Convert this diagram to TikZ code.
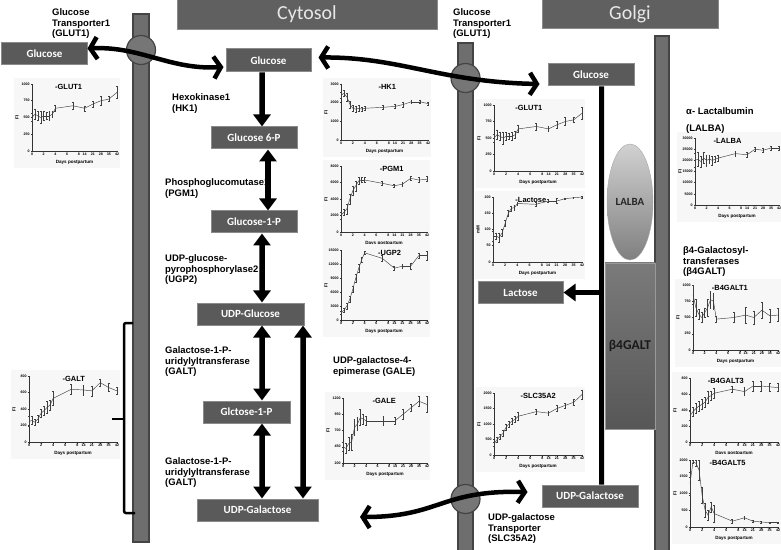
\documentclass[tikz,border=0pt]{standalone}
\usepackage{fontspec}
\setmainfont{Liberation Sans}
\newfontfamily\boxfont{Carlito}
\usetikzlibrary{arrows.meta,shapes.geometric}

\definecolor{boxfill}{HTML}{5A5A5A}
\definecolor{boxedge}{HTML}{8A8A8A}
\definecolor{hdrfill}{HTML}{606060}
\definecolor{hdrtext}{HTML}{E8E8E8}
\definecolor{barfill}{HTML}{6E6E6E}
\definecolor{baredge}{HTML}{444444}
\definecolor{porefill}{HTML}{767676}

\tikzset{
  mol/.style={draw=boxedge, line width=1bp, fill=boxfill, text=white, font=\boxfont\bfseries\fontsize{11}{13}\selectfont, minimum height=22bp, inner sep=0pt},
  hdr/.style={draw=boxedge, line width=1bp, fill=hdrfill, text=hdrtext, font=\boxfont\fontsize{20}{24}\selectfont, minimum height=30bp, inner sep=0pt},
  enz/.style={anchor=north west, align=left, inner sep=0pt, font=\bfseries\fontsize{9.5}{11}\selectfont},
  memb/.style={fill=barfill, draw=baredge, line width=1.2bp},
  pore/.style={circle, fill=porefill, draw=baredge, line width=1.2bp, minimum size=29bp, inner sep=0pt},
  flux/.style={line width=5.5bp, ->},
  flux2/.style={line width=5.5bp, <->},
  swing/.style={line width=4.5bp, arrows={Straight Barb[length=7bp,width=22bp]-Straight Barb[length=7bp,width=22bp]}},
  golgiline/.style={line width=5bp},
  brace/.style={line width=2.5bp, rounded corners=2bp},
  lalba/.style={ellipse, draw=black!35, top color=black!18, bottom color=black!50, minimum width=46bp, minimum height=116bp, inner sep=0pt, text=black!85, font=\boxfont\bfseries\fontsize{11}{13}\selectfont},
  galtbox/.style={rectangle, draw=black!40, top color=black!52, bottom color=black!66, minimum width=50bp, minimum height=166bp, inner sep=0pt, text=black!90, font=\boxfont\bfseries\fontsize{13.5}{15}\selectfont},
  chartbg/.style={fill=black!3},
  chartaxis/.style={draw=black!80, line width=.5bp},
  chartline/.style={draw=black!75, line width=.45bp},
  ticklab/.style={inner sep=.6bp, font=\bfseries\fontsize{3.6}{4}\selectfont},
  daylab/.style={inner sep=0pt, font=\bfseries\fontsize{4.6}{5}\selectfont},
  charttitle/.style={anchor=west, inner sep=0pt, font=\bfseries\fontsize{7.5}{8}\selectfont}
}

% [y label] x0, y0 (axis corner), width, height, title, title place, y ticks, day/value/error
\newcommand{\minichart}[9][FI]{%
  \begin{scope}[shift={(#2,#3)}]
    \foreach \tk [count=\n] in {#8} {\xdef\nticks{\n}}
    \pgfmathsetmacro\ystep{#5/(\nticks-1)}
    \fill[chartbg] (-18,17) rectangle ({#4+3},{-#5-6});
    \draw[chartaxis] (0,-#5) -- (0,0) -- (#4,0);
    \foreach \tk [count=\n from 0] in {#8}
      \draw[chartaxis] (0,-\n*\ystep) -- ++(-1.5,0) node[ticklab,anchor=east] {\tk};
    \foreach \dday in {0,2,4,6,8,14,21,28,35,42} {
      \pgfmathsetmacro\px{#4*(\dday<9 ? \dday/8*0.55 : 0.62+(\dday-14)/28*0.38)}
      \draw[chartaxis] (\px,0) -- (\px,1.5) node[ticklab,anchor=north] {\dday};
    }
    \node[daylab] at ({#4/2},11) {Days postpartum};
    \node[daylab, rotate=90] at (-15,{-#5/2}) {#1};
    \node[charttitle] at ({#7*#4},{-#5+3}) {-#6};
    \foreach \dday/\val/\err [count=\i] in {#9} {
      \pgfmathsetmacro\px{#4*(\dday<9 ? \dday/8*0.55 : 0.62+(\dday-14)/28*0.38)}
      \pgfmathsetmacro\py{-\val*\ystep}
      \pgfmathsetmacro\pe{\err*\ystep}
      \draw[chartline] (\px,\py-\pe) -- (\px,\py+\pe) (\px-.9,\py-\pe) -- (\px+.9,\py-\pe) (\px-.9,\py+\pe) -- (\px+.9,\py+\pe);
      \ifnum\i>1 \draw[chartline] (\qx,\qy) -- (\px,\py);\fi
      \xdef\qx{\px}\xdef\qy{\py}
    }
  \end{scope}}

\begin{document}
\begin{tikzpicture}[x=1bp, y=-1bp, >={Triangle[length=12bp,width=17bp]}]
\useasboundingbox (0,0) rectangle (781,550);

% membranes
\draw[memb] (133,14) rectangle (149,542);
\draw[memb] (458,43) rectangle (473,552);
\draw[memb] (655,36) rectangle (669,552);
\node[pore] (poreL) at (141,50) {};
\node[pore] (poreT) at (465.5,78) {};
\node[pore] (poreB) at (465.5,499) {};

% compartments
\node[hdr, minimum width=260bp] (cyto) at (307,14.5) {Cytosol};
\node[hdr, minimum width=176bp] (golgi) at (630,14) {Golgi};

% expression curves
\minichart{32}{151}{85}{67}{GLUT1}{.27}{0,250,500,750,1000}{0/2.0/.25, .5/2.2/.3, 1/2.1/.25, 1.5/2.0/.35, 2/2.1/.25, 2.5/2.1/.2, 3/2.1/.25, 3.5/2.2/.2, 4/2.55/.2, 7/2.7/.2, 14/2.55/.15, 21/2.8/.2, 28/3.0/.25, 35/3.1/.15, 42/3.5/.35}
\minichart{341}{140}{87}{56}{HK1}{.43}{0,1000,2000,3000}{0/2.4/.15, .5/2.5/.15, 1/2.3/.2, 1.5/1.9/.2, 2/1.7/.15, 2.5/1.65/.15, 3/1.7/.15, 3.5/1.65/.1, 4/1.7/.1, 7/1.75/.1, 14/1.8/.1, 21/1.9/.15, 28/2.05/.1, 35/2.05/.1, 42/1.95/.1}
\minichart{341}{232}{86}{66}{PGM1}{.45}{0,2000,4000,6000,8000}{0/1.0/.2, .5/1.2/.2, 1/1.4/.3, 1.5/2.0/.3, 2/2.5/.3, 2.5/2.8/.3, 3/3.1/.2, 3.5/3.15/.15, 4/3.15/.15, 7/2.95/.1, 14/2.8/.1, 21/2.9/.1, 28/3.25/.1, 35/3.15/.15, 42/3.2/.15}
\minichart{341}{320}{86}{70}{UGP2}{.43}{0,3000,6000,9000,12000,15000}{0/.5/.1, .5/.7/.15, 1/1.0/.2, 1.5/1.5/.2, 2/2.2/.2, 2.5/3.0/.3, 3/3.7/.3, 3.5/4.3/.2, 4/4.8/.1, 7/4.4/.2, 14/3.7/.15, 21/3.85/.15, 28/3.85/.2, 35/4.6/.2, 42/4.6/.3}
\minichart{343}{463}{84}{65}{GALE}{.35}{200,450,700,950,1200}{0/1.0/.3, .5/.9/.3, 1/1.2/.4, 1.5/1.3/.5, 2/2.2/.5, 2.5/2.4/.4, 3/2.8/.5, 3.5/2.7/.3, 4/2.6/.3, 7/2.6/.3, 14/2.6/.2, 21/3.0/.3, 28/3.4/.2, 35/3.8/.3, 42/3.6/.5}
\minichart{494}{171}{88}{66}{GLUT1}{.24}{0,250,500,750,1000}{0/2.0/.25, .5/2.2/.3, 1/2.1/.25, 1.5/2.0/.35, 2/2.1/.25, 2.5/2.1/.2, 3/2.1/.25, 3.5/2.2/.2, 4/2.55/.2, 7/2.7/.2, 14/2.55/.15, 21/2.8/.2, 28/3.0/.25, 35/3.1/.15, 42/3.5/.35}
\minichart[mM]{493}{262}{89}{65}{Lactose}{.25}{0,50,100,150,200}{0/1.6/.3, .5/1.6/.2, 1/1.5/.3, 1.5/1.8/.2, 2/2.4/.2, 2.5/3.0/.2, 3/3.3/.15, 3.5/3.35/.15, 4/3.6/.1, 7/3.55/.1, 14/3.75/.1, 21/3.75/.15, 28/3.9/.05, 35/3.95/.05, 42/4.0/.05}
\minichart{494}{455}{88}{62}{SLC35A2}{.3}{0,500,1000,1500,2000}{0/.7/.15, .5/1.0/.15, 1/1.2/.15, 1.5/1.4/.2, 2/1.8/.2, 2.5/2.0/.2, 3/2.2/.2, 3.5/2.3/.2, 4/2.5/.25, 7/2.8/.15, 14/2.7/.15, 21/3.0/.2, 28/3.2/.15, 35/3.4/.2, 42/3.9/.3}
\minichart{695}{205}{84}{67}{LALBA}{.22}{0,5000,10000,15000,20000,25000,30000}{0/4.0/.6, .5/4.1/.6, 1/3.9/.5, 1.5/4.2/.5, 2/4.0/.5, 2.5/4.1/.4, 3/4.0/.4, 3.5/4.1/.3, 4/4.2/.3, 7/4.6/.2, 14/4.5/.2, 21/5.0/.2, 28/4.9/.2, 35/5.1/.2, 42/5.1/.2}
\minichart{693}{350}{85}{65}{B4GALT1}{.22}{0,250,500,750,1000}{0/3.4/.6, .5/2.6/.5, 1/2.2/.3, 1.5/2.0/.3, 2/2.3/.3, 2.5/2.6/.5, 3/3.1/.5, 3.5/3.0/.5, 4/1.9/.2, 7/2.0/.3, 14/2.15/.5, 21/2.0/.4, 28/2.45/.5, 35/2.1/.4, 42/2.15/.4}
\minichart{690}{442}{88}{64}{B4GALT3}{.2}{0,200,400,600,800}{0/1.65/.3, .5/1.9/.3, 1/2.1/.3, 1.5/2.25/.3, 2/2.35/.3, 2.5/2.5/.3, 3/2.8/.4, 3.5/2.9/.3, 4/3.05/.3, 7/3.3/.2, 14/3.15/.25, 21/3.5/.3, 28/3.5/.3, 35/3.45/.25, 42/3.4/.25}
\minichart{690}{527}{88}{67}{B4GALT5}{.22}{0,500,1000,1500,2000}{0/2.6/.7, .5/3.9/.1, 1/3.8/.2, 1.5/3.4/.6, 2/1.9/.5, 2.5/1.0/.4, 3/.7/.3, 3.5/1.2/.3, 4/.8/.5, 7/.35/.1, 14/.55/.1, 21/.35/.05, 28/.3/.05, 35/.26/.05, 42/.26/.05}
\minichart{29}{442}{88}{66}{GALT}{.38}{0,200,400,600,800}{0/1.25/.3, .5/1.3/.25, 1/1.2/.2, 1.5/1.4/.2, 2/1.75/.25, 2.5/1.9/.25, 3/2.1/.35, 3.5/2.25/.3, 4/2.65/.4, 7/3.2/.3, 14/3.15/.3, 21/3.1/.3, 28/3.6/.2, 35/3.3/.25, 42/3.1/.2}

% metabolites
\node[mol, minimum width=85bp] (gluL) at (44.5,53.5) {Glucose};
\node[mol, minimum width=85bp, minimum height=23bp] (gluC) at (268.5,60.5) {Glucose};
\node[mol, minimum width=86bp] (g6p) at (254,138) {Glucose 6-P};
\node[mol, minimum width=86bp] (g1p) at (254,222) {Glucose-1-P};
\node[mol, minimum width=107bp] (udpglc) at (250.5,314) {UDP-Glucose};
\node[mol, minimum width=87bp] (gal1p) at (246.5,412) {Glctose-1-P};
\node[mol, minimum width=121bp] (udpgalC) at (257.5,510) {UDP-Galactose};
\node[mol, minimum width=86bp] (gluG) at (591,75) {Glucose};
\node[mol, minimum width=85bp, minimum height=21bp] (lac) at (520.5,292.5) {Lactose};
\node[mol, minimum width=96bp] (udpgalG) at (590,496) {UDP-Galactose};

% lactose synthase
\node[lalba] (lalba) at (630,202) {LALBA};
\node[galtbox] (b4galt) at (630,346) {β4GALT};
\draw[golgiline] ([xshift=10.5bp]gluG.south) -- ([xshift=11.5bp]udpgalG.north);
\coordinate (tap) at (601.5,292.5);
\draw[flux] (tap) -- (lac.east);

% pathway
\draw[flux] ([xshift=-6.5bp]gluC.south) -- ([xshift=8bp]g6p.north);
\draw[flux2] ([xshift=14bp]g6p.south) -- ([xshift=14bp]g1p.north);
\draw[flux2] ([xshift=8bp]g1p.south) -- ([xshift=11.5bp]udpglc.north);
\draw[flux2] ([xshift=11.5bp]udpglc.south) -- ([xshift=15.5bp]gal1p.north);
\draw[flux2] ([xshift=15.5bp]gal1p.south) -- ([xshift=4.5bp]udpgalC.north);
\draw[flux2] ([xshift=52.5bp]udpglc.south) -- ([xshift=45.5bp]udpgalC.north);

% transport
\draw[swing] ([yshift=5bp]gluL.east) .. controls (140,46) and (170,70) .. ([xshift=-2bp,yshift=-6.5bp]gluC.west);
\draw[swing] ([xshift=7bp,yshift=3bp]gluC.east) .. controls (400,57) and (440,82) .. ([xshift=-8bp,yshift=-9bp]gluG.west);
\coordinate (udpout) at (360,517);
\draw[swing] (udpout) .. controls (440,517) and (440,490) .. ([xshift=-14bp,yshift=4bp]udpgalG.west);

% GALT bracket
\draw[brace] (133,323) -- (124,323) -- (124,513) -- (135,513);
\draw[brace] (124,419) -- (112,419);

% enzymes
\node[enz] (glutA) at (52,8) {Glucose\\Transporter1\\(GLUT1)};
\node[enz] (glutB) at (453,8) {Glucose\\Transporter1\\(GLUT1)};
\node[enz] (hk1) at (172,93) {Hexokinase1\\(HK1)};
\node[enz] (pgm1) at (165,178) {Phosphoglucomutase1\\(PGM1)};
\node[enz] (ugp2) at (165,254) {UDP-glucose-\\pyrophosphorylase2\\(UGP2)};
\node[enz] (galtA) at (165,346) {Galactose-1-P-\\uridylyltransferase\\(GALT)};
\node[enz] (galtB) at (165,457) {Galactose-1-P-\\uridylyltransferase\\(GALT)};
\node[enz] (gale) at (333,356) {UDP-galactose-4-\\epimerase (GALE)};
\node[enz] (slc) at (488,513) {UDP-galactose\\Transporter\\(SLC35A2)};
\node[enz] (lalbaname) at (686,107) {α- Lactalbumin\\[6bp](LALBA)};
\node[enz] (galtname) at (683,246) {β4-Galactosyl-\\transferases\\(β4GALT)};
\end{tikzpicture}
\end{document}
